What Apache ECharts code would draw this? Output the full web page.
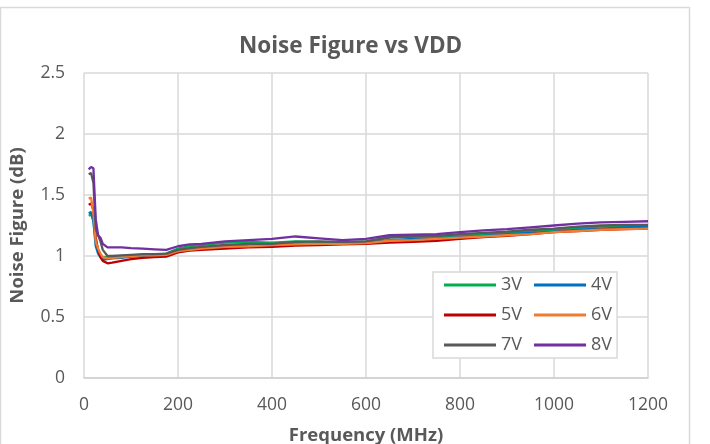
<!DOCTYPE html>
<html>
<head>
<meta charset="utf-8">
<script src="https://cdn.jsdelivr.net/npm/echarts@6/dist/echarts.min.js"></script>
<style>html,body{margin:0;padding:0;background:#fff;}#chart{width:710px;height:444px;}</style>
</head>
<body>
<div id="chart"></div>
<script>
const freqMHz = [10,15,20,25,30,35,40,50,60,80,100,125,150,175,200,225,250,300,350,400,450,500,550,600,650,700,750,800,850,900,950,1000,1050,1100,1150,1200];
const nf3V = [1.33,1.34,1.30,1.12,1.05,1.01,0.99,0.99,0.995,1.00,1.005,1.01,1.01,1.02,1.06,1.08,1.09,1.11,1.115,1.11,1.12,1.115,1.11,1.12,1.155,1.16,1.16,1.17,1.18,1.19,1.205,1.215,1.23,1.24,1.245,1.245];
const nf4V = [1.35,1.36,1.28,1.08,1.02,0.99,0.97,0.975,0.98,0.985,0.995,1.00,1.005,1.01,1.04,1.055,1.06,1.075,1.085,1.09,1.10,1.10,1.105,1.11,1.13,1.14,1.145,1.155,1.165,1.18,1.19,1.20,1.215,1.225,1.235,1.24];
const nf5V = [1.42,1.43,1.38,1.15,1.05,0.99,0.96,0.94,0.945,0.96,0.975,0.985,0.99,0.995,1.03,1.045,1.05,1.06,1.07,1.075,1.085,1.09,1.095,1.10,1.11,1.115,1.125,1.14,1.155,1.165,1.18,1.195,1.205,1.215,1.22,1.225];
const nf6V = [1.47,1.48,1.35,1.12,1.06,1.02,0.99,0.98,0.985,0.99,1.00,1.005,1.005,1.01,1.04,1.05,1.06,1.075,1.08,1.09,1.095,1.10,1.10,1.105,1.125,1.13,1.14,1.15,1.16,1.17,1.18,1.195,1.205,1.215,1.22,1.225];
const nf7V = [1.67,1.68,1.60,1.22,1.17,1.12,1.05,1.00,1.00,1.005,1.01,1.015,1.015,1.02,1.05,1.065,1.075,1.09,1.10,1.10,1.115,1.12,1.115,1.12,1.15,1.16,1.165,1.18,1.19,1.20,1.215,1.225,1.24,1.25,1.255,1.255];
const nf8V = [1.71,1.73,1.72,1.30,1.17,1.15,1.10,1.07,1.07,1.07,1.065,1.06,1.055,1.05,1.08,1.095,1.10,1.12,1.13,1.14,1.16,1.145,1.13,1.14,1.17,1.175,1.18,1.195,1.21,1.22,1.235,1.25,1.265,1.275,1.28,1.285];
const seriesNames = ['3V','4V','5V','6V','7V','8V'];
const seriesColors = ['#00B050','#0070C0','#C00000','#ED7D31','#595959','#7030A0'];
const seriesData = [nf3V,nf4V,nf5V,nf6V,nf7V,nf8V];

const FONT = 'Open Sans';
const TXT = '#595959';
const chart = echarts.init(document.getElementById('chart'), null, {renderer:'canvas'});
chart.setOption({
  animation: false,
  backgroundColor: '#ffffff',
  graphic: [{
    type: 'rect', silent: true, z: -10,
    shape: {x: 0.5, y: 7.5, width: 689, height: 460},
    style: {fill: '#ffffff', stroke: '#d9d9d9', lineWidth: 1.5}
  }],
  title: {
    text: 'Noise Figure vs VDD', left: 234, top: 30,
    textStyle: {fontFamily: FONT, fontSize: 22.5, fontWeight: 'bold', color: TXT}
  },
  legend: {
    data: seriesNames,
    icon: 'rect',
    left: 433, top: 272, width: 175,
    padding: [4, 5, 4, 11],
    itemGap: 12, itemWidth: 52, itemHeight: 3,
    borderColor: '#d9d9d9', borderWidth: 1.5, backgroundColor: '#ffffff',
    textStyle: {fontFamily: FONT, fontSize: 18, color: TXT, lineHeight: 16}
  },
  grid: {left: 84, right: 62, top: 73, bottom: 66, containLabel: false, outerBoundsMode: 'none'},
  xAxis: {
    type: 'value', min: 0, max: 1200, interval: 200,
    name: 'Frequency (MHz)', nameLocation: 'middle', nameGap: 48,
    nameTextStyle: {fontFamily: FONT, fontSize: 18.5, fontWeight: 'bold', color: TXT},
    axisLine: {show: true, lineStyle: {color: '#cfcfcf', width: 1.5}},
    axisTick: {show: false},
    axisLabel: {fontFamily: FONT, fontSize: 17.5, color: TXT, margin: 18, formatter: v => String(v)},
    splitLine: {show: true, lineStyle: {color: '#d9d9d9', width: 1.5}}
  },
  yAxis: {
    type: 'value', min: 0, max: 2.5, interval: 0.5,
    name: 'Noise Figure (dB)', nameLocation: 'middle', nameGap: 57,
    nameTextStyle: {fontFamily: FONT, fontSize: 18.5, fontWeight: 'bold', color: TXT},
    axisLine: {show: false}, axisTick: {show: false},
    axisLabel: {fontFamily: FONT, fontSize: 17.5, color: TXT, margin: 19, formatter: v => String(v)},
    splitLine: {show: true, lineStyle: {color: '#d9d9d9', width: 1.5}}
  },
  series: seriesNames.map((n, i) => ({
    name: n, type: 'line', symbol: 'none', smooth: false,
    color: seriesColors[i],
    lineStyle: {width: 2.3, color: seriesColors[i]},
    data: freqMHz.map((f, k) => [f, seriesData[i][k]])
  }))
});
</script>
</body>
</html>
